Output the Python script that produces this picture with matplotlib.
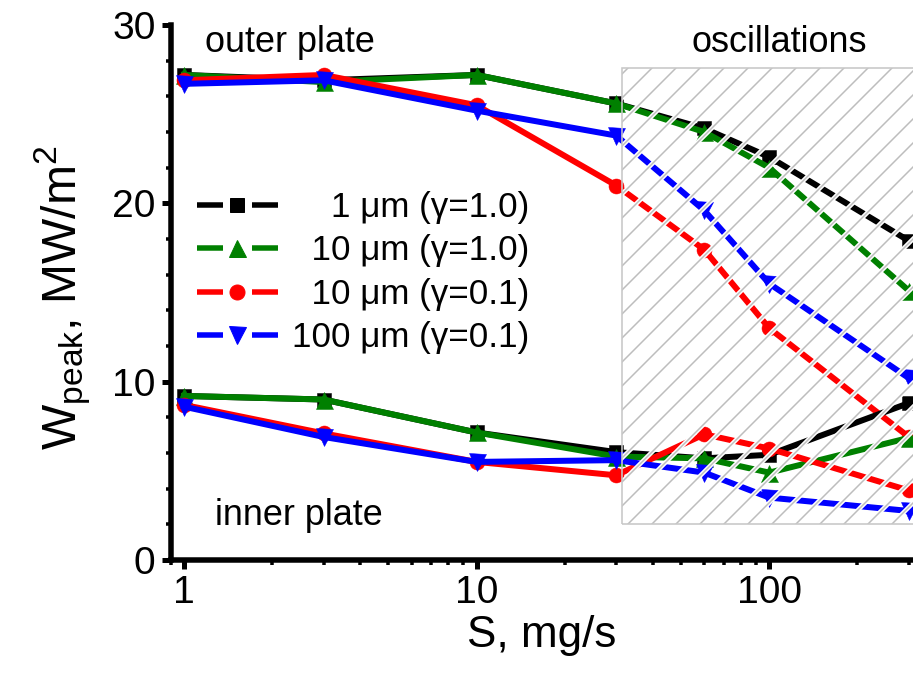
import matplotlib
matplotlib.use("Agg")
import matplotlib.pyplot as plt
from matplotlib.lines import Line2D
from matplotlib.patches import Rectangle
from matplotlib.ticker import FixedLocator, LogLocator, NullFormatter, FixedFormatter

plt.rcParams['font.family'] = ['Liberation Sans', 'DejaVu Sans']
plt.rcParams['mathtext.default'] = 'regular'
plt.rcParams['lines.scale_dashes'] = False

# ---------------- data ----------------
S = [1, 3, 10, 30, 60, 100, 300]

outer_1um_g10 = [27.2, 26.9, 27.2, 25.6, 24.2, 22.6, 17.9]
outer_10um_g10 = [27.2, 26.8, 27.2, 25.6, 24.0, 22.0, 15.1]
outer_10um_g01 = [26.9, 27.2, 25.5, 21.0, 17.4, 13.0, 6.9]
outer_100um_g01 = [26.7, 26.9, 25.2, 23.8, 19.6, 15.5, 10.2]

inner_1um_g10 = [9.2, 9.0, 7.15, 6.05, 5.7, 5.9, 8.8]
inner_10um_g10 = [9.2, 9.0, 7.15, 5.8, 5.7, 4.9, 6.85]
inner_10um_g01 = [8.7, 7.1, 5.5, 4.75, 7.05, 6.25, 3.9]
inner_100um_g01 = [8.6, 6.9, 5.5, 5.6, 4.9, 3.5, 2.75]

labels = ["\u2007\u20071 \u03bcm (\u03b3=1.0)",
          "\u200710 \u03bcm (\u03b3=1.0)",
          "\u200710 \u03bcm (\u03b3=0.1)",
          "100 \u03bcm (\u03b3=0.1)"]
colors = ["#000000", "#008000", "#ff0000", "#0000ff"]
markers = ["s", "^", "o", "v"]
msizes = [14, 17, 15, 17]

x_ticks = [1, 10, 100]
x_ticklabels = ["1", "10", "100"]
y_ticks = [0, 10, 20, 30]

osc_x = (31.5, 1000)
osc_y = (2.0, 27.6)

# ---------------- figure ----------------
DPI = 72
fig = plt.figure(figsize=(913 / DPI, 674 / DPI), dpi=DPI)
ax = fig.add_axes([170.5 / 913, 1 - 560 / 674, 1 - 170.5 / 913, (560 - 25) / 674])

ax.set_xscale('log')
ax.set_xlim(0.9, 310)
ax.set_ylim(0, 30)

outer = [outer_1um_g10, outer_10um_g10, outer_10um_g01, outer_100um_g01]
inner = [inner_1um_g10, inner_10um_g10, inner_10um_g01, inner_100um_g01]

for ser in (outer, inner):
    for vals, c, m, ms in zip(ser, colors, markers, msizes):
        ax.plot(S, vals, color=c, lw=6, marker=m, ms=ms, mfc=c, mec=c,
                mew=0.5, zorder=3, solid_joinstyle='miter', clip_on=True)

# oscillation region: hatched box on top of data
w = osc_x[1] - osc_x[0]
h = osc_y[1] - osc_y[0]
r_white = Rectangle((osc_x[0], osc_y[0]), w, h, fill=False, hatch='/',
                    edgecolor='white', lw=0, zorder=5)
r_gray = Rectangle((osc_x[0], osc_y[0]), w, h, fill=False, hatch='/',
                   edgecolor='#bdbdbd', lw=0, zorder=6)
if hasattr(r_white, 'set_hatch_linewidth'):
    r_white.set_hatch_linewidth(4.5)
    r_gray.set_hatch_linewidth(1.5)
else:
    plt.rcParams['hatch.linewidth'] = 1.5
r_edge = Rectangle((osc_x[0], osc_y[0]), w, h, fill=False,
                   edgecolor='#c8c8c8', lw=1.6, zorder=7)
for r in (r_white, r_gray, r_edge):
    ax.add_patch(r)

# spines & ticks
for s in ['top', 'right']:
    ax.spines[s].set_visible(False)
for s in ['left', 'bottom']:
    ax.spines[s].set_linewidth(5.5)
    ax.spines[s].set_capstyle('projecting')

ax.xaxis.set_major_locator(FixedLocator(x_ticks))
ax.xaxis.set_major_formatter(FixedFormatter(x_ticklabels))
ax.xaxis.set_minor_locator(LogLocator(base=10, subs=range(2, 10)))
ax.xaxis.set_minor_formatter(NullFormatter())
ax.yaxis.set_major_locator(FixedLocator(y_ticks))
ax.yaxis.set_minor_locator(FixedLocator([v for v in range(0, 31, 2) if v % 10]))

ax.tick_params(which='major', direction='out', length=9, width=5, labelsize=39, pad=6)
ax.tick_params(which='minor', direction='out', length=5, width=3.5)

ax.set_xlabel("S, mg/s", fontsize=44, labelpad=4)
ax.set_ylabel("W$_{peak}$, MW/m$^{2}$", fontsize=48)
ax.yaxis.set_label_coords(-0.105, 0.49)

# legend
handles = []
for c, m, ms in zip(colors, markers, msizes):
    handles.append(Line2D([], [], color=c, lw=5.5, ls=(0, (26, 29)),
                          marker=m, ms=ms, mfc=c, mec=c))
leg = ax.legend(handles, labels, loc='upper left',
                bbox_to_anchor=(0.036, 0.69), fontsize=35, frameon=False,
                handlelength=2.3, handletextpad=0.4, labelspacing=0.3,
                borderaxespad=0, borderpad=0)
leg.set_zorder(10)

# annotations
ax.text(1.18, 29.0, "outer plate", fontsize=36, ha='left', va='center')
ax.text(1.28, 2.5, "inner plate", fontsize=36, ha='left', va='center')
ax.text(108, 29.0, "oscillations", fontsize=36, ha='center', va='center')

fig.savefig("out.png", dpi=DPI)
